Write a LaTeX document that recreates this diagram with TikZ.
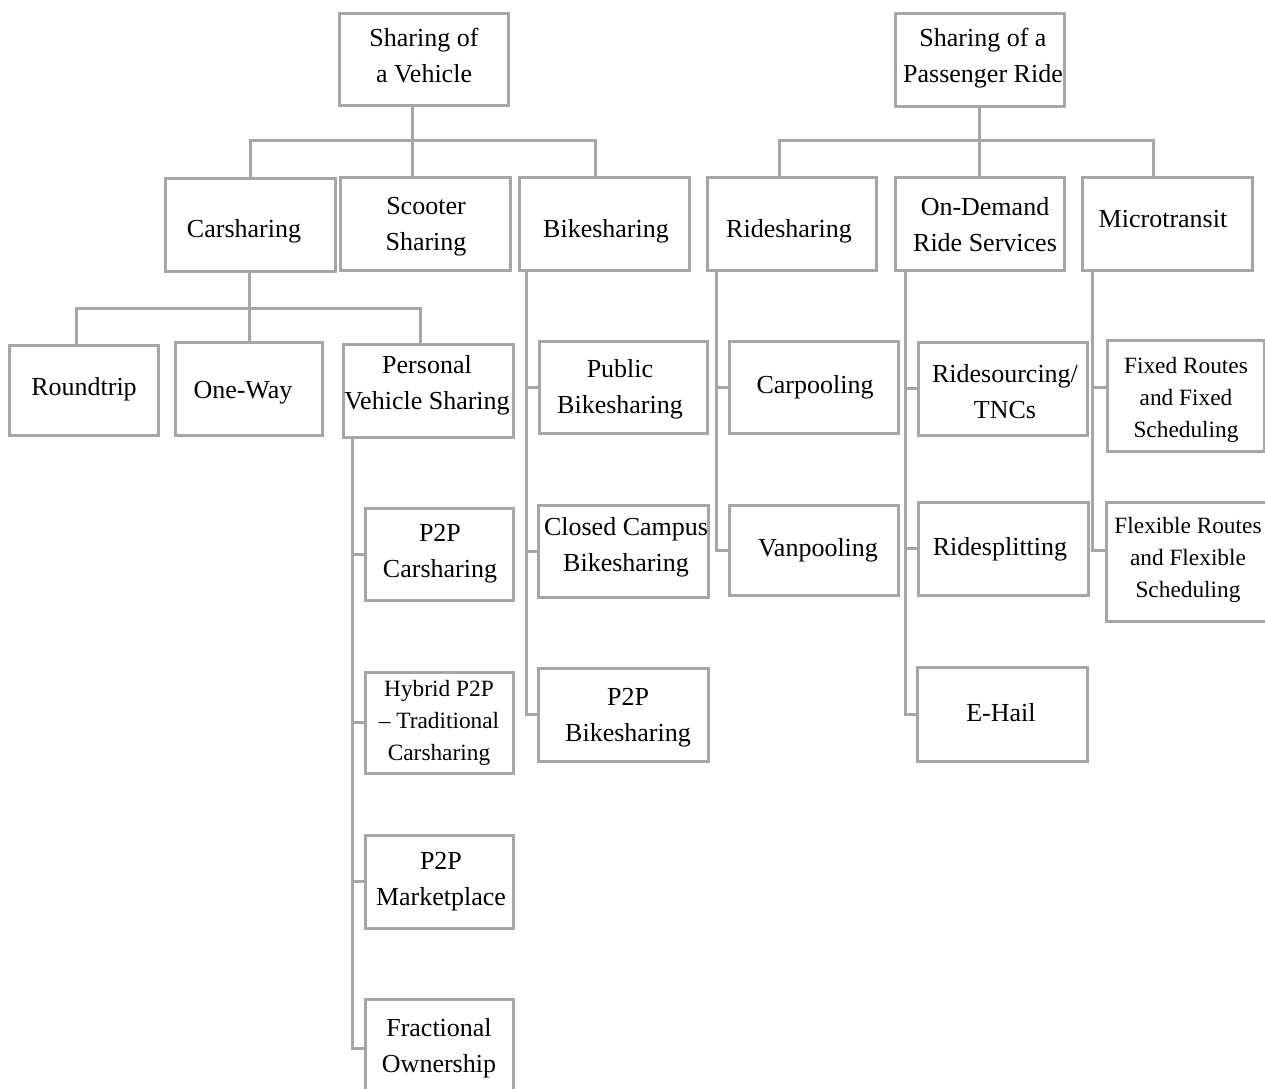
\documentclass[tikz,border=0pt]{standalone}
\usepackage{fontspec}
\setmainfont{Liberation Serif}
\usetikzlibrary{fit}
\definecolor{lg}{RGB}{166,166,166}
\tikzset{
  box/.style={draw=lg, line width=2.25pt, inner sep=0pt, rectangle},
  conn/.style={draw=lg, line width=2.25pt},
  tx/.style={font=\fontsize{19.5}{27}\selectfont, align=center, inner sep=0pt},
  txs/.style={font=\fontsize{17.5}{24}\selectfont, align=center, inner sep=0pt},
}
\begin{document}
\begin{tikzpicture}[x=0.75pt, y=-0.75pt]
\useasboundingbox (0,0) rectangle (1265,1089);
\fill[white] (0,0) rectangle (1265,1089);

% ---------- boxes ----------
\node[box, fit={(339,13) (508,105)}] (r1) {};
\node[box, fit={(895,13) (1064,106)}] (r2) {};
\node[box, fit={(165,178) (335,271)}] (cs) {};
\node[box, fit={(340,177) (510,270)}] (sc) {};
\node[box, fit={(519,177) (689,270)}] (bs) {};
\node[box, fit={(707,177) (876,270)}] (rs) {};
\node[box, fit={(895,177) (1064,270)}] (od) {};
\node[box, fit={(1082,177) (1252,270)}] (mt) {};
\node[box, fit={(9,345) (158,435)}] (rt) {};
\node[box, fit={(175,342) (322,435)}] (ow) {};
\node[box, fit={(343,344) (513,437)}] (pvs) {};
\node[box, fit={(539,341) (707,433)}] (pub) {};
\node[box, fit={(729,341) (898,433)}] (cp) {};
\node[box, fit={(918,342) (1087,435)}] (rsrc) {};
\node[box, fit={(1107,340) (1264,451)}] (fix) {};
\node[box, fit={(538,505) (708,597)}] (cc) {};
\node[box, fit={(538,668) (708,761)}] (p2pb) {};
\node[box, fit={(729,505) (898,595)}] (vp) {};
\node[box, fit={(918,502) (1088,595)}] (rspl) {};
\node[box, fit={(917,667) (1087,761)}] (eh) {};
\node[box, fit={(1106,502) (1272,621)}] (flex) {};
\node[box, fit={(365,508) (513,600)}] (p2pc) {};
\node[box, fit={(365,672) (513,773)}] (hyb) {};
\node[box, fit={(365,835) (513,928)}] (mkt) {};
\node[box, fit={(365,999) (513,1097)}] (frac) {};

% ---------- texts ----------
\node[tx] (r1-t) at (424,56) {Sharing of\\a Vehicle};
\node[tx] (r2-t) at (983,58) {Sharing of a\\Passenger Ride};
\node[tx, anchor=base] (cs-t) at (244,237) {Carsharing};
\node[tx] (sc-t) at (426,227) {Scooter\\Sharing};
\node[tx, anchor=base] (bs-t) at (606,237) {Bikesharing};
\node[tx, anchor=base] (rs-t) at (789,237) {Ridesharing};
\node[tx] (od-t) at (985,225) {On-Demand\\Ride Services};
\node[tx, anchor=base] (mt-t) at (1163,227) {Microtransit};
\node[tx, anchor=base] (rt-t) at (84,395) {Roundtrip};
\node[tx, anchor=base] (ow-t) at (243,398) {One-Way};
\node[tx] (pvs-t) at (427,385) {Personal\\Vehicle Sharing};
\node[tx] (pub-t) at (620,389) {Public\\Bikesharing};
\node[tx, anchor=base] (cp-t) at (815,393) {Carpooling};
\node[tx] (rsrc-t) at (1005,392) {Ridesourcing/\\TNCs};
\node[txs] (fix-t) at (1186,400) {Fixed Routes\\and Fixed\\Scheduling};
\node[txs] (flex-t) at (1188,560) {Flexible Routes\\and Flexible\\Scheduling};
\node[tx] (cc-t) at (626,547) {Closed Campus\\Bikesharing};
\node[tx] (p2pb-t) at (628,718) {P2P\\Bikesharing};
\node[tx, anchor=base] (vp-t) at (818,556) {Vanpooling};
\node[tx, anchor=base] (rspl-t) at (1000,555) {Ridesplitting};
\node[tx, anchor=base] (eh-t) at (1001,721) {E-Hail};
\node[tx] (p2pc-t) at (440,554) {P2P\\Carsharing};
\node[txs] (hyb-t) at (439,723) {Hybrid P2P\\– Traditional\\Carsharing};
\node[tx] (mkt-t) at (441,882) {P2P\\Marketplace};
\node[tx] (frac-t) at (439,1048) {Fractional\\Ownership};

% ---------- connectors: tree 1 ----------
\coordinate (j1) at (412,140);
\draw[conn] (r1.south -| j1) -- (j1);
\draw[conn] (cs.north -| 250,0) |- (j1) -| (bs.north -| 595,0);
\draw[conn] (j1) -- (sc.north -| j1);

% ---------- connectors: tree 2 ----------
\coordinate (j2) at (979,140);
\draw[conn] (r2.south -| j2) -- (j2);
\draw[conn] (rs.north -| 779,0) |- (j2) -| (mt.north -| 1153,0);
\draw[conn] (j2) -- (od.north -| j2);

% ---------- carsharing children ----------
\coordinate (j3) at (249,308);
\draw[conn] (cs.south -| j3) -- (j3);
\draw[conn] (rt.north -| 76,0) |- (j3) -| (pvs.north -| 420,0);
\draw[conn] (j3) -- (ow.north -| j3);

% ---------- bikesharing branch ----------
\draw[conn] (bs.south -| 526,0) |- (p2pb.west);
\draw[conn] (pub.west -| 526,0) -- (pub.west);
\draw[conn] (cc.west -| 526,0) -- (cc.west);

% ---------- personal vehicle sharing branch ----------
\draw[conn] (pvs.south -| 352,0) |- (frac.west);
\draw[conn] (p2pc.west -| 352,0) -- (p2pc.west);
\draw[conn] (hyb.west -| 352,0) -- (hyb.west);
\draw[conn] (mkt.west -| 352,0) -- (mkt.west);

% ---------- ridesharing branch ----------
\draw[conn] (rs.south -| 716,0) |- (vp.west);
\draw[conn] (cp.west -| 716,0) -- (cp.west);

% ---------- on-demand branch ----------
\draw[conn] (od.south -| 905,0) |- (eh.west);
\draw[conn] (rsrc.west -| 905,0) -- (rsrc.west);
\draw[conn] (rspl.west -| 905,0) -- (rspl.west);

% ---------- microtransit branch ----------
\draw[conn] (mt.south -| 1092,0) |- (flex.west |- 0,550);
\draw[conn] (fix.west |- 0,387) -- (1092,387);
\end{tikzpicture}
\end{document}
